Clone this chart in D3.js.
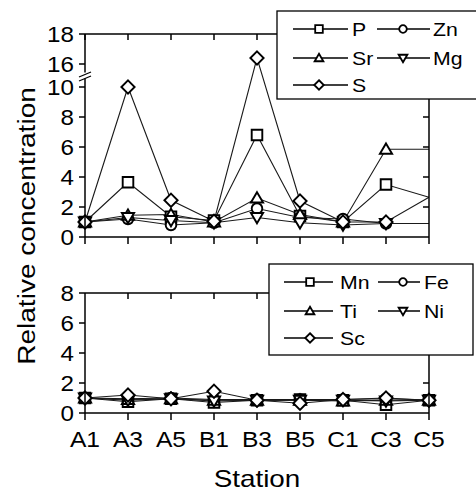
<!DOCTYPE html>
<html><head><meta charset="utf-8">
<script src="https://cdn.jsdelivr.net/npm/d3@7"></script>
<style>body{margin:0;background:#fff}svg{display:block}</style>
</head><body>
<svg id="c" width="476" height="495"></svg>
<script>
// ---------- data ----------
const stations = ["A1","A3","A5","B1","B3","B5","C1","C3","C5"];
// upper panel
const P  = [1.0, 3.65, 1.35, 1.1, 6.8, 1.4, 1.0, 3.5, 2.65];
const Zn = [1.0, 1.2, 0.8, 0.95, 1.9, 1.3, 1.2, 0.9, 0.9];
const Sr = [1.0, 1.45, 1.5, 1.0, 2.6, 1.5, 1.0, 5.85, 5.85];
const Mg = [1.0, 1.3, 1.1, 0.95, 1.3, 0.95, 0.8, 0.9, 0.9];
const S  = [1.0, 10.0, 2.45, 1.05, 16.4, 2.4, 1.0, 1.0, 2.65];
// lower panel
const Mn = [1.0, 0.75, 0.95, 0.7, 0.85, 0.9, 0.85, 0.55, 0.85];
const Fe = [1.0, 0.95, 1.0, 0.9, 0.9, 0.9, 0.9, 0.95, 0.87];
const Ti = [1.0, 0.9, 0.95, 0.85, 0.85, 0.85, 0.8, 0.85, 0.85];
const Ni = [1.0, 0.85, 0.95, 0.8, 0.85, 0.85, 0.85, 0.8, 0.85];
const Sc = [1.0, 1.2, 0.95, 1.45, 0.85, 0.65, 0.9, 1.0, 0.85];
// tick labels
const topLowTicks = [0, 2, 4, 6, 8, 10];
const topHighTicks = [16, 18];
const botTicks = [0, 2, 4, 6, 8];

const topSeries = [
  {name:"P", shape:"square", values:P},
  {name:"Zn", shape:"circle", values:Zn},
  {name:"Sr", shape:"up", values:Sr},
  {name:"Mg", shape:"down", values:Mg},
  {name:"S", shape:"diamond", values:S}
];
const botSeries = [
  {name:"Mn", shape:"square", values:Mn},
  {name:"Fe", shape:"circle", values:Fe},
  {name:"Ti", shape:"up", values:Ti},
  {name:"Ni", shape:"down", values:Ni},
  {name:"Sc", shape:"diamond", values:Sc}
];

// ---------- layout ----------
const svg = d3.select("#c");
const FONT = "'Liberation Sans', Arial, Helvetica, sans-serif";
const x = d3.scalePoint(stations, [85, 429]);
const yLow = d3.scaleLinear([0, 10], [237, 87]);
const yHigh = d3.scaleLinear([16, 18], [64, 34]);
const yTop = v => v <= 10 ? yLow(v) : yHigh(v);
const yBot = d3.scaleLinear([0, 8], [413, 293]);

function shapePath(shape, s) {
  switch (shape) {
    case "square": return `M${-s},${-s}H${s}V${s}H${-s}Z`;
    case "circle": return `M${s},0A${s},${s},0,1,1,${-s},0A${s},${s},0,1,1,${s},0Z`;
    case "up": return `M0,${-s*1.1}L${s*1.15},${s*0.85}L${-s*1.15},${s*0.85}Z`;
    case "down": return `M0,${s*1.1}L${s*1.15},${-s*0.85}L${-s*1.15},${-s*0.85}Z`;
    case "diamond": return `M0,${-s*1.25}L${s*1.25},0L0,${s*1.25}L${-s*1.25},0Z`;
  }
}

function txt(x0, y0, str, o = {}) {
  const t = svg.append("text")
    .attr("transform", `translate(${x0},${y0}) rotate(${o.rot||0}) scale(${o.sx||1.12},1)`)
    .attr("text-anchor", o.anchor || "start")
    .attr("font-family", FONT)
    .attr("font-size", o.size || 22)
    .attr("fill", "#000")
    .text(str);
  if (o.middle) t.attr("dy", "0.36em");
  return t;
}

function line(x1, y1, x2, y2, w = 1.5) {
  svg.append("line").attr("x1", x1).attr("y1", y1).attr("x2", x2).attr("y2", y2)
    .attr("stroke", "#000").attr("stroke-width", w);
}

function drawSeries(series, yf, markerFilter) {
  const gen = d3.line().x((d, i) => x(stations[i])).y(d => yf(d));
  const g = svg.append("g");
  series.forEach(s => {
    g.append("path").attr("d", gen(s.values)).attr("fill", "none")
      .attr("stroke", "#1a1a1a").attr("stroke-width", 1.1);
  });
  series.forEach(s => {
    s.values.forEach((v, i) => {
      if (!markerFilter(i)) return;
      g.append("path").attr("d", shapePath(s.shape, 5.3))
        .attr("transform", `translate(${x(stations[i])},${yf(v)})`)
        .attr("fill", "#fff").attr("stroke", "#000").attr("stroke-width", 1.9);
    });
  });
}

function legend(series, box, rows, cols) {
  svg.append("rect").attr("x", box.x).attr("y", box.y).attr("width", box.w).attr("height", box.h)
    .attr("fill", "#fff").attr("stroke", "#000").attr("stroke-width", 1.3);
  series.forEach((s, k) => {
    const r = Math.floor(k / 2), c = k % 2;
    const cy = rows[r], col = cols[c];
    line(col.l1, cy, col.l2, cy, 1.3);
    svg.append("path").attr("d", shapePath(s.shape, 3.8))
      .attr("transform", `translate(${col.m},${cy})`)
      .attr("fill", "#fff").attr("stroke", "#000").attr("stroke-width", 1.8);
    txt(col.t, cy, s.name, {size: 19, middle: true});
  });
}

// ---------- upper panel ----------
const xL = x.range()[0], xR = x.range()[1];
const brk = (yLow(10) + yHigh(16)) / 2;
const topLeg = {x: 277, y: 11, w: 210, h: 88};
const botLeg = {x: 269, y: 264, w: 204, h: 91};

drawSeries(topSeries, yTop, i => i < stations.length - 1);

// left axis with break
line(xL, yLow(0), xL, brk + 3);
line(xL, brk - 3, xL, yHigh(18));
line(xL - 6, brk + 1.5, xL + 6, brk - 3.5, 1.3);
line(xL - 6, brk + 5.5, xL + 6, brk + 0.5, 1.3);
topLowTicks.forEach(v => { line(xL - 6, yLow(v), xL, yLow(v)); txt(74, yLow(v), v, {anchor: "end", middle: true, size: 22, sx: 1.1}); });
topHighTicks.forEach(v => { line(xL - 6, yHigh(v), xL, yHigh(v)); txt(74, yHigh(v), v, {anchor: "end", middle: true, size: 22, sx: 1.1}); });
// bottom axis
line(xL, yLow(0), xR, yLow(0));
stations.forEach(s => line(x(s), yLow(0), x(s), yLow(0) + 7));
// top axis
line(xL, yHigh(18), topLeg.x, yHigh(18));
stations.forEach(s => { if (x(s) < topLeg.x) line(x(s), yHigh(18), x(s), yHigh(18) + 6); });
// right axis
line(xR, topLeg.y + topLeg.h, xR, yLow(0));
topLowTicks.forEach(v => { if (yLow(v) > topLeg.y + topLeg.h + 2 && v > 0) line(xR - 6, yLow(v), xR, yLow(v)); });

legend(topSeries, topLeg, [29, 58, 85],
  [{l1: 293, l2: 348, m: 319, t: 352}, {l1: 377, l2: 430, m: 403, t: 433}]);

// ---------- lower panel ----------
drawSeries(botSeries, yBot, () => true);
line(xL, yBot(0), xL, yBot(8));
botTicks.forEach(v => { line(xL - 6, yBot(v), xL, yBot(v)); txt(74, yBot(v), v, {anchor: "end", middle: true, size: 22, sx: 1.1}); });
line(xL, yBot(0), xR, yBot(0));
stations.forEach(s => line(x(s), yBot(0), x(s), yBot(0) + 7));
line(xL, yBot(8), botLeg.x, yBot(8));
stations.forEach(s => { if (x(s) < botLeg.x && x(s) > xL) line(x(s), yBot(8), x(s), yBot(8) + 6); });
line(xR, botLeg.y + botLeg.h, xR, yBot(0));
botTicks.forEach(v => { if (yBot(v) > botLeg.y + botLeg.h + 2 && v > 0) line(xR - 6, yBot(v), xR, yBot(v)); });

legend(botSeries, botLeg, [282, 311, 338],
  [{l1: 284, l2: 333, m: 310, t: 340}, {l1: 378, l2: 420, m: 403, t: 424}]);

// station labels
stations.forEach(s => txt(x(s), 447, s, {anchor: "middle", size: 22, sx: 1.12}));

// titles
txt(257, 487, "Station", {anchor: "middle", size: 24, sx: 1.16});
txt(35, 226, "Relative concentration", {anchor: "middle", size: 24, sx: 1.17, rot: -90});
</script>
</body></html>
